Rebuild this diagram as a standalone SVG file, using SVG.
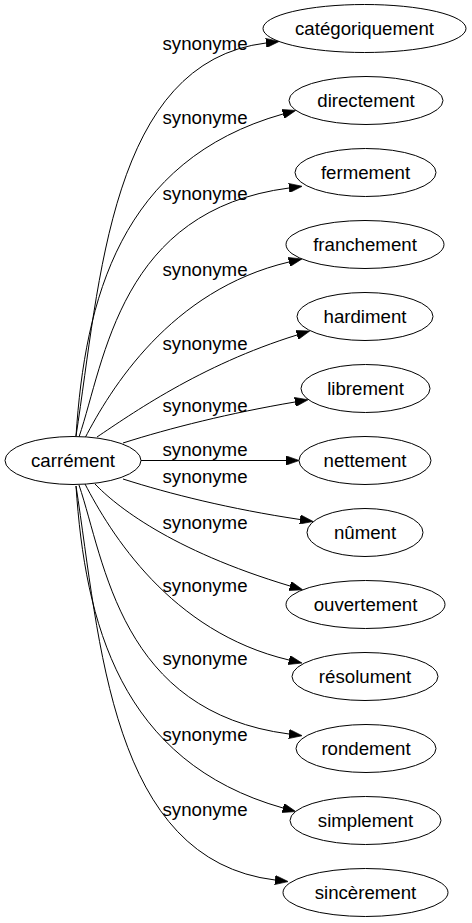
<svg xmlns="http://www.w3.org/2000/svg" width="472" height="923" viewBox="0 0 472 923">
<style>
.node ellipse{fill:#fff;stroke:#000;stroke-width:1}
text{font-family:"Liberation Sans",Arial,sans-serif;font-size:18.67px;fill:#000;text-anchor:middle}
.edges path{fill:none;stroke:#000;stroke-width:1;marker-end:url(#arr)}
</style>
<defs>
<marker id="arr" markerUnits="userSpaceOnUse" viewBox="0 0 10 7" markerWidth="13.3" markerHeight="9.3" refX="0" refY="3.5" orient="auto">
<path d="M0,0 L10,3.5 L0,7 z" fill="#000" stroke="#000" stroke-width="0.5"/>
</marker>
</defs>
<rect width="472" height="923" fill="#fff"/>
<g class="edges" id="edges">
<path d="M76,436 C100,282 110,62 266,43"/>
<path d="M76,436 C85,300 120,160 283,114"/>
<path d="M79,437 C105,360 120,210 289,188"/>
<path d="M85,438 C110,390 170,290 289,262"/>
<path d="M97,437 C130,415 200,365 297,335"/>
<path d="M123,443 C170,428 230,413 295,402"/>
<path d="M141,460.5 L286,460.5"/>
<path d="M123,479 C170,494 230,509 300,519.5"/>
<path d="M95,484 C115,505 170,550 290,586"/>
<path d="M85,484 C110,532 170,632 289,660"/>
<path d="M79,485 C105,562 120,712 289,734"/>
<path d="M76,486 C85,622 120,762 283,808"/>
<path d="M76,486 C100,640 110,860 275,880"/>
<text x="205" y="50">synonyme</text>
<text x="205" y="124">synonyme</text>
<text x="205" y="200">synonyme</text>
<text x="205" y="276">synonyme</text>
<text x="205" y="350">synonyme</text>
<text x="205" y="412">synonyme</text>
<text x="205" y="456">synonyme</text>
<text x="205" y="483">synonyme</text>
<text x="205" y="529">synonyme</text>
<text x="205" y="592">synonyme</text>
<text x="205" y="665">synonyme</text>
<text x="205" y="741">synonyme</text>
<text x="205" y="816">synonyme</text>
</g>
<g class="node" id="n0"><ellipse cx="73" cy="460.5" rx="68" ry="24"/><text x="73" y="466.5">carrément</text></g>
<g class="node" id="n1"><ellipse cx="364.5" cy="28.5" rx="101.5" ry="24"/><text x="364.5" y="34.5">catégoriquement</text></g>
<g class="node" id="n2"><ellipse cx="366" cy="100.5" rx="77" ry="24"/><text x="366" y="106.5">directement</text></g>
<g class="node" id="n3"><ellipse cx="365.5" cy="172.5" rx="70.5" ry="24"/><text x="365.5" y="178.5">fermement</text></g>
<g class="node" id="n4"><ellipse cx="365" cy="244.5" rx="79" ry="24"/><text x="365" y="250.5">franchement</text></g>
<g class="node" id="n5"><ellipse cx="365" cy="316.5" rx="68" ry="24"/><text x="365" y="322.5">hardiment</text></g>
<g class="node" id="n6"><ellipse cx="365.5" cy="388.5" rx="64.5" ry="24"/><text x="365.5" y="394.5">librement</text></g>
<g class="node" id="n7"><ellipse cx="365" cy="460.5" rx="66" ry="24"/><text x="365" y="466.5">nettement</text></g>
<g class="node" id="n8"><ellipse cx="365" cy="532.5" rx="58" ry="24"/><text x="365" y="538.5">nûment</text></g>
<g class="node" id="n9"><ellipse cx="365.5" cy="604.5" rx="79.5" ry="24"/><text x="365.5" y="610.5">ouvertement</text></g>
<g class="node" id="n10"><ellipse cx="365" cy="676.5" rx="73" ry="24"/><text x="365" y="682.5">résolument</text></g>
<g class="node" id="n11"><ellipse cx="366" cy="748.5" rx="70" ry="24"/><text x="366" y="754.5">rondement</text></g>
<g class="node" id="n12"><ellipse cx="365.5" cy="820.5" rx="75.5" ry="24"/><text x="365.5" y="826.5">simplement</text></g>
<g class="node" id="n13"><ellipse cx="365.5" cy="892.5" rx="82.5" ry="24"/><text x="365.5" y="898.5">sincèrement</text></g>
</svg>
